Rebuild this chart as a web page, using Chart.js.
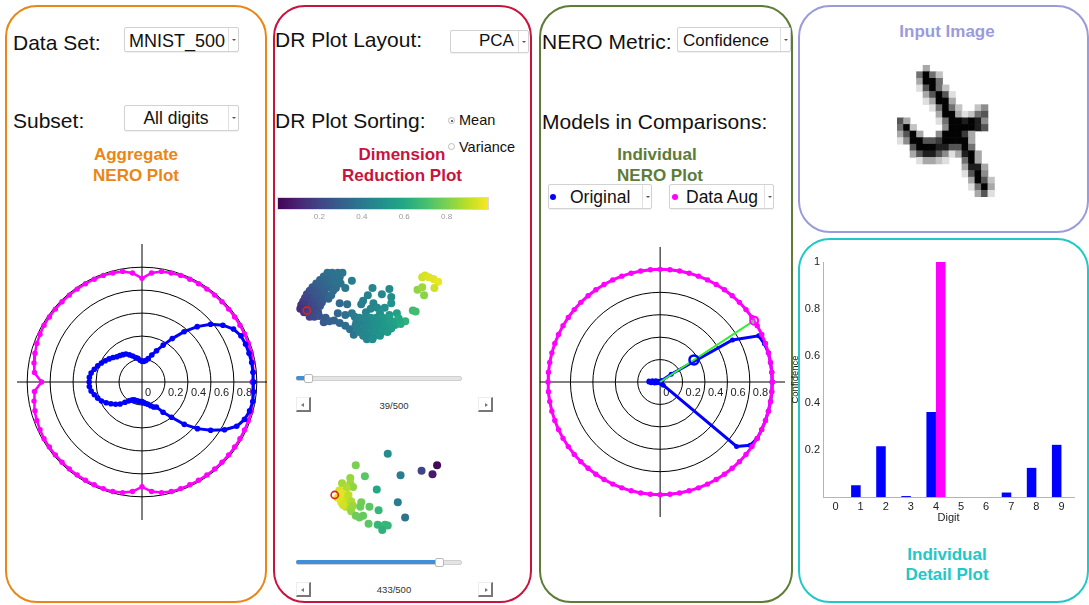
<!DOCTYPE html>
<html>
<head>
<meta charset="utf-8">
<script src="https://cdn.jsdelivr.net/npm/chart.js@4.4.1/dist/chart.umd.min.js"></script>
<style>
body { margin:0; width:1089px; height:605px; position:relative; overflow:hidden; background:#fff; font-family:"Liberation Sans", Arial, sans-serif; color:#111; }
.panel { position:absolute; box-sizing:border-box; border:2px solid; border-radius:32px; }
.t { position:absolute; line-height:1; white-space:nowrap; }
.c { text-align:center; width:200px; }
.h { font-weight:bold; font-size:17px; }
.box { position:absolute; box-sizing:border-box; border:1px solid #d2d2d2; border-radius:2px; background:#fff; box-shadow:0 1px 1px rgba(0,0,0,0.06); }
.sep { position:absolute; top:0; bottom:0; width:0; border-left:1px solid #e0e0e0; }
.arr { position:absolute; width:0; height:0; border-left:2px solid transparent; border-right:2px solid transparent; border-top:2px solid #555; }
.dot { position:absolute; width:6px; height:6px; border-radius:3px; }
.radio { position:absolute; box-sizing:border-box; width:7px; height:7px; border-radius:4px; border:1px solid #bbb; background:#fff; }
.track { position:absolute; box-sizing:border-box; height:5px; background:#e4e4e4; border:1px solid #d0d0d0; border-radius:2px; }
.fill { position:absolute; height:4px; background:#3f8fd9; border-radius:2px; }
.knob { position:absolute; box-sizing:border-box; width:9px; height:9px; background:#fff; border:1px solid #b8b8b8; border-radius:2px; }
.btn { position:absolute; box-sizing:border-box; width:15px; height:15px; background:#fff; border-top:1px solid #eee; border-left:1px solid #eee; border-right:2px solid #777; border-bottom:2px solid #777; }
.btn i { position:absolute; top:5px; width:0; height:0; border-top:2px solid transparent; border-bottom:2px solid transparent; }
canvas { position:absolute; }
</style>
</head>
<body>
<!-- panels -->
<div class="panel" style="left:5px;top:5px;width:262px;height:598px;border-color:#ea8616"></div>
<div class="panel" style="left:273px;top:5px;width:259px;height:598px;border-color:#c8133f"></div>
<div class="panel" style="left:539px;top:5px;width:254px;height:598px;border-color:#5d7c36"></div>
<div class="panel" style="left:798px;top:5px;width:291px;height:228px;border-color:#9b9bdb"></div>
<div class="panel" style="left:798px;top:238px;width:291px;height:365px;border-color:#22c7c7"></div>

<!-- panel 1 controls -->
<div class="t" style="left:13px;top:31.5px;font-size:21px">Data Set:</div>
<div class="box" style="left:124px;top:27px;width:115px;height:25px"><div class="sep" style="left:103px"></div><div class="arr" style="left:107px;top:11px"></div></div>
<div class="t" style="left:129px;top:31.5px;font-size:18px">MNIST_500</div>
<div class="t" style="left:13px;top:110.2px;font-size:21px">Subset:</div>
<div class="box" style="left:124px;top:105px;width:115px;height:26px"><div class="sep" style="left:103px"></div><div class="arr" style="left:107px;top:11px"></div></div>
<div class="t c" style="left:76px;top:110.2px;font-size:17.5px">All digits</div>
<div class="t c h" style="left:36px;top:146.3px;color:#ea8616">Aggregate</div>
<div class="t c h" style="left:36px;top:167.3px;color:#ea8616">NERO Plot</div>

<!-- panel 2 controls -->
<div class="t" style="left:275px;top:29.2px;font-size:21px">DR Plot Layout:</div>
<div class="box" style="left:450px;top:30px;width:79px;height:23px"><div class="sep" style="left:67px"></div><div class="arr" style="left:71px;top:10px"></div></div>
<div class="t" style="left:479px;top:32.3px;font-size:17px">PCA</div>
<div class="t" style="left:275px;top:109.9px;font-size:21px">DR Plot Sorting:</div>
<div class="radio" style="left:448px;top:117px"><div style="position:absolute;left:1.5px;top:1.5px;width:2px;height:2px;border-radius:1px;background:#333"></div></div>
<div class="t" style="left:459px;top:113.2px;font-size:14.5px">Mean</div>
<div class="radio" style="left:448px;top:142.5px"></div>
<div class="t" style="left:459px;top:140px;font-size:14.5px">Variance</div>
<div class="t c h" style="left:302px;top:146.3px;color:#c8133f">Dimension</div>
<div class="t c h" style="left:302px;top:167.3px;color:#c8133f">Reduction Plot</div>

<div class="track" style="left:296px;top:376px;width:166px"></div>
<div class="fill" id="fillTop" style="left:296px;top:376px"></div>
<div class="knob" id="knobTop" style="top:374px"></div>
<div class="btn" style="left:296px;top:397px"><i style="left:4px;border-right:3px solid #777"></i></div>
<div class="btn" style="left:478px;top:397px"><i style="left:6px;border-left:3px solid #777"></i></div>
<div class="t c" id="lblTop" style="left:294px;top:400.7px;font-size:9.5px;color:#333"></div>

<div class="track" style="left:296px;top:560px;width:166px"></div>
<div class="fill" id="fillBot" style="left:296px;top:560px"></div>
<div class="knob" id="knobBot" style="top:558px"></div>
<div class="btn" style="left:296px;top:582px"><i style="left:4px;border-right:3px solid #777"></i></div>
<div class="btn" style="left:478px;top:582px"><i style="left:6px;border-left:3px solid #777"></i></div>
<div class="t c" id="lblBot" style="left:294px;top:584.7px;font-size:9.5px;color:#333"></div>

<!-- panel 3 controls -->
<div class="t" style="left:542px;top:30.5px;font-size:21px">NERO Metric:</div>
<div class="box" style="left:677px;top:27px;width:114px;height:25px"><div class="sep" style="left:102px"></div><div class="arr" style="left:106px;top:11px"></div></div>
<div class="t" style="left:683px;top:32.3px;font-size:17px">Confidence</div>
<div class="t" style="left:542px;top:110.5px;font-size:21px">Models in Comparisons:</div>
<div class="t c h" style="left:557px;top:146.3px;color:#5d7c36">Individual</div>
<div class="t c h" style="left:560px;top:167.3px;color:#5d7c36">NERO Plot</div>
<div class="box" style="left:548px;top:184px;width:104px;height:25px"><div class="sep" style="left:93px"></div><div class="arr" style="left:97px;top:11px"></div></div>
<div class="dot" style="left:550px;top:194px;background:#0000ff"></div>
<div class="t" style="left:570px;top:189.2px;font-size:17.5px">Original</div>
<div class="box" style="left:669px;top:184px;width:105px;height:25px"><div class="sep" style="left:94px"></div><div class="arr" style="left:98px;top:11px"></div></div>
<div class="dot" style="left:672px;top:194px;background:#ff00ff"></div>
<div class="t" style="left:686px;top:189.2px;font-size:17.5px">Data Aug</div>

<!-- panel 4 titles -->
<div class="t c h" style="left:847px;top:23.3px;color:#9b9bdb">Input Image</div>
<div class="t c h" style="left:847px;top:545.6px;color:#22c7c7">Individual</div>
<div class="t c h" style="left:847px;top:566.3px;color:#22c7c7">Detail Plot</div>

<canvas id="aggPolar" width="258" height="284" style="left:13px;top:240px"></canvas>
<canvas id="indPolar" width="259" height="284" style="left:533px;top:240px"></canvas>
<canvas id="cbar" width="212" height="26" style="left:277px;top:197px"></canvas>
<canvas id="drTop" width="180" height="110" style="left:290px;top:260px"></canvas>
<canvas id="drBot" width="130" height="110" style="left:320px;top:440px"></canvas>
<canvas id="digitImg" width="114" height="142" style="left:892px;top:60px"></canvas>
<canvas id="detail" width="290" height="274" style="left:790px;top:251px"></canvas>

<script>
Chart.defaults.font.family = '"Liberation Sans", Arial, sans-serif';
Chart.defaults.animation = false;
Chart.defaults.plugins.legend.display = false;
Chart.defaults.plugins.tooltip.enabled = false;

// polar NERO plots: angle in degrees, radius = confidence
const polarAngles = [0,5,10,15,20,25,30,35,40,45,50,55,60,65,70,75,80,85,90,95,100,105,110,115,
  120,125,130,135,140,145,150,155,160,165,170,175,180,185,190,195,200,205,210,215,220,225,230,235,
  240,245,250,255,260,265,270,275,280,285,290,295,300,305,310,315,320,325,330,335,340,345,350,355];

const aggOrigR = [0.97,0.97,0.97,0.965,0.96,0.95,0.92,0.86,0.78,0.68,0.57,0.46,0.37,0.30,0.25,0.21,0.19,0.18,
  0.18,0.19,0.21,0.22,0.24,0.26,0.28,0.29,0.30,0.31,0.33,0.35,0.37,0.39,0.41,0.43,0.45,0.46,
  0.46,0.46,0.45,0.43,0.41,0.39,0.36,0.33,0.30,0.27,0.23,0.20,0.18,0.17,0.17,0.17,0.17,0.17,
  0.17,0.18,0.19,0.20,0.22,0.24,0.25,0.32,0.40,0.52,0.63,0.73,0.83,0.91,0.95,0.97,0.98,0.975];

const aggAugR = [0.96,0.975,0.98,0.985,0.985,0.985,0.985,0.985,0.985,0.985,0.985,0.985,0.985,0.985,0.985,0.98,0.975,0.95,
  0.90,0.95,0.975,0.98,0.985,0.985,0.985,0.985,0.985,0.985,0.985,0.985,0.985,0.98,0.975,0.965,0.955,0.94,
  0.875,0.94,0.955,0.965,0.975,0.98,0.985,0.985,0.985,0.985,0.985,0.985,0.985,0.985,0.985,0.985,0.975,0.955,
  0.91,0.955,0.975,0.985,0.985,0.985,0.985,0.985,0.985,0.985,0.985,0.985,0.985,0.985,0.985,0.985,0.98,0.97];

const indOrigR = [1,1,1,1,0.99,0.97,0.745,0.12,0.02,0,0,0,0,0,0,0,0,0,
  0,0,0,0,0,0,0,0,0,0,0,0,0,0.01,0.02,0.04,0.07,0.10,
  0.10,0.08,0.05,0.03,0.01,0,0,0,0,0,0,0,0,0,0,0,0,0,
  0,0,0,0,0,0,0,0,0.02,0.04,0.89,0.98,1,1,1,1,1,1];

const indAugR = [1,1,1,1,1,1,1,1,1,1,1,1,1,1,1,1,1,1,
  1,1,1,1,1,1,1,1,1,1,1,1,1,1,1,1,1,1,
  1,1,1,1,1,1,1,1,1,1,1,1,1,1,1,1,1,1,
  1,1,1,1,1,1,1,1,1,1,1,1,1,1,1,1,1,1];

const ringValues = [0.2, 0.4, 0.6, 0.8, 1.0];
const ringTickValues = [0, 0.2, 0.4, 0.6, 0.8];
const ringTickLabels = ['0', '0.2', '0.4', '0.6', '0.8'];

const selectedAngle = 33;
const selectedOrig = 0.36;
const selectedAug = 1.0;

// individual detail plot
const digits = ['0','1','2','3','4','5','6','7','8','9'];
const origConf = [0, 0.05, 0.216, 0.004, 0.362, 0, 0, 0.019, 0.124, 0.222];
const augConf = [0, 0, 0, 0, 1.0, 0, 0, 0, 0, 0];

// dimension reduction scatter (picture coordinates), value = mean confidence
const drTopX = [324,329,320,325,330,316,321,326,331,312,317,322,327,308,313,318,323,305,310,315,320,302,307,312,317,322,
  300,305,310,315,320,325,298,303,308,313,318,296,301,306,311,316,295,300,305,310,299,304,309,314,305,310,315,
  335,340,337,333,338,343,333,350,328,330,
  337,345,335,343,350,353,322,320,326,331,337,343,348,352,
  372,390,367,382,392,362,360,373,392,370,377,385,380,390,398,365,
  358,364,370,376,383,390, 355,361,367,373,379,385,391,397, 354,360,366,372,378,384,390,396,
  356,362,368,374,380,386,392, 358,364,370,376,382,388, 362,368,374,380, 366,372,
  415,418,407,402,400,
  425,428,432,437,442,438,420,425,427];
const drTopY = [268,268,272,272,272,276,276,277,276,280,280,281,281,284,284,285,285,288,288,289,289,292,292,293,293,293,
  296,296,297,297,297,297,300,300,301,301,301,304,304,305,305,305,308,308,309,309,312,313,313,312,317,317,316,
  268,268,273,279,280,285,285,277,293,288,
  302,303,313,315,313,317,318,323,322,321,324,327,331,337,
  285,286,293,292,295,299,303,302,302,308,307,307,313,315,313,312,
  318,318,318,318,318,318, 322,322,322,322,322,322,322,322, 326,326,326,326,326,326,326,326,
  330,330,330,330,330,330,330, 334,334,334,334,334,334, 338,338,338,338, 342,342,
  310,311,322,325,319,
  273,271,273,275,278,285,287,284,293];
const drTopV = [.37,.38,.35,.36,.37,.33,.34,.35,.37,.31,.32,.33,.35,.28,.30,.31,.33,.26,.27,.29,.31,.23,.25,.27,.29,.31,
  .21,.22,.25,.27,.29,.32,.19,.20,.23,.25,.27,.16,.18,.21,.23,.26,.13,.15,.19,.22,.15,.18,.21,.24,.20,.23,.26,
  .39,.39,.38,.37,.38,.39,.36,.42,.34,.35,
  .34,.36,.33,.36,.40,.42,.29,.28,.30,.31,.33,.35,.37,.39,
  .45,.47,.44,.46,.48,.43,.42,.45,.50,.45,.47,.49,.50,.54,.57,.44,
  .45,.46,.48,.50,.53,.56, .43,.45,.47,.49,.51,.53,.56,.58, .42,.44,.46,.48,.50,.53,.55,.57,
  .43,.45,.47,.49,.51,.53,.55, .44,.46,.48,.50,.52,.54, .45,.47,.49,.51, .46,.48,
  .68,.69,.64,.61,.60,
  .93,.94,.95,.96,.97,.93,.83,.85,.82];
const drTopSel = [302, 310];

const drBotX = [388,353,363,402,425,442,437,338,347,347,350,343,376,399,407,
  335,338,333,340,345,337,343,348,342,347,350,336,339,
  359,358,368,378,348,353,357,361,367,377,382,385,388,382];
const drBotY = [449,462,474,473,468,462,472,482,476,482,486,487,489,503,520,
  490,493,498,498,495,503,503,502,508,510,507,494,506,
  503,508,508,512,513,518,520,518,527,528,530,528,529,534];
const drBotV = [.48,.80,.74,.42,.20,.02,.07,.86,.84,.85,.83,.88,.60,.42,.38,
  .93,.95,.97,.94,.90,.95,.92,.88,.90,.87,.85,.96,.93,
  .78,.77,.74,.66,.84,.78,.77,.76,.74,.66,.65,.67,.66,.64];
const drBotSel = [330, 495];

const colorbarTicks = [0.2, 0.4, 0.6, 0.8];
const sliderTop = 39, sliderBot = 433, sliderMax = 500;

// input image, 0 = white .. 9 = black
const digitRows = [
  '0000300000000000',
  '0005952000000000',
  '0003995000000000',
  '0001695200000000',
  '0000369610000000',
  '0000139930000000',
  '0000015952002400',
  '0000003993125600',
  '6300001599898400',
  '5920000499998600',
  '3693004999730000',
  '1499667999930000',
  '0069998866950000',
  '0036886413893000',
  '0001332100593000',
  '0000000000388300',
  '0000000000169400',
  '0000000000039620',
  '0000000000015930',
  '0000000000003610'
];

const viridisStops = ['#440154','#482475','#414487','#355f8d','#2a788e','#21918c','#22a884','#44bf70','#7ad151','#bddf26','#fde725'];
function hexRgb(h) { return [1, 3, 5].map(k => parseInt(h.slice(k, k + 2), 16)); }
function viridis(v) {
  const t = Math.max(0, Math.min(1, v)) * 10;
  const i = Math.min(9, Math.floor(t));
  const f = t - i;
  const a = hexRgb(viridisStops[i]), b = hexRgb(viridisStops[i + 1]);
  return 'rgb(' + a.map((c, k) => Math.round(c + (b[k] - c) * f)).join(',') + ')';
}

function polarPoints(angles, radii) {
  const pts = angles.map((a, i) => ({
    x: radii[i] * Math.cos(a * Math.PI / 180),
    y: radii[i] * Math.sin(a * Math.PI / 180)
  }));
  pts.push(pts[0]);
  return pts;
}

// rings, crosshair and radius labels
const polarFrame = {
  id: 'polarFrame',
  beforeDatasetsDraw(chart) {
    const { ctx, chartArea: a, scales: { x, y } } = chart;
    const cx = x.getPixelForValue(0), cy = y.getPixelForValue(0);
    ctx.save();
    ctx.strokeStyle = '#000';
    ctx.lineWidth = 1;
    ctx.beginPath();
    ctx.moveTo(a.left, cy); ctx.lineTo(a.right, cy);
    ctx.moveTo(cx, a.top); ctx.lineTo(cx, a.bottom);
    ctx.stroke();
    ringValues.forEach(v => {
      ctx.beginPath();
      ctx.arc(cx, cy, x.getPixelForValue(v) - cx, 0, Math.PI * 2);
      ctx.stroke();
    });
    ctx.fillStyle = '#222';
    ctx.font = '11px "Liberation Sans", Arial';
    ctx.textAlign = 'left';
    ctx.textBaseline = 'middle';
    ringTickValues.forEach((v, i) => ctx.fillText(ringTickLabels[i], x.getPixelForValue(v) + 3, cy + 11));
    ctx.restore();
  }
};

function polarChart(id, xmin, xmax, ymax, datasets) {
  return new Chart(id, {
    type: 'scatter',
    data: { datasets },
    options: {
      responsive: false,
      layout: { padding: 0 },
      scales: {
        x: { type: 'linear', min: xmin, max: xmax, display: false },
        y: { type: 'linear', min: -ymax, max: ymax, display: false }
      }
    },
    plugins: [polarFrame]
  });
}

const pxUnit = 118.5;
polarChart('aggPolar', -129 / pxUnit, 129 / pxUnit, 142 / pxUnit, [
  { data: polarPoints(polarAngles, aggOrigR), showLine: true, borderColor: '#0000ff', backgroundColor: '#0000ff',
    borderWidth: 3, pointRadius: 2.8, pointBorderWidth: 0 },
  { data: polarPoints(polarAngles, aggAugR), showLine: true, borderColor: '#ff00ff', backgroundColor: '#ff00ff',
    borderWidth: 2.5, pointRadius: 2.7, pointBorderWidth: 0 }
]);

const selA = selectedAngle * Math.PI / 180;
const selAugPt = { x: selectedAug * Math.cos(selA), y: selectedAug * Math.sin(selA) };
const selOrigPt = { x: selectedOrig * Math.cos(selA), y: selectedOrig * Math.sin(selA) };
polarChart('indPolar', -127 / pxUnit, 132 / pxUnit, 142 / pxUnit, [
  { data: [selAugPt], pointRadius: 4, pointBorderWidth: 2, pointBorderColor: '#ff00ff', pointBackgroundColor: 'rgba(255,120,255,0.25)' },
  { data: [selOrigPt], pointRadius: 4.5, pointBorderWidth: 2.5, pointBorderColor: '#0000ff', pointBackgroundColor: 'rgba(0,0,0,0)' },
  { data: [{ x: 0, y: 0 }, selAugPt], showLine: true, borderColor: '#33ee33', borderWidth: 2, pointRadius: 0 },
  { data: polarPoints(polarAngles, indAugR), showLine: true, borderColor: '#ff00ff', backgroundColor: '#ff00ff',
    borderWidth: 3, pointRadius: 2.7, pointBorderWidth: 0 },
  { data: polarPoints(polarAngles, indOrigR), showLine: true, borderColor: '#0000ff', backgroundColor: '#0000ff',
    borderWidth: 3, pointRadius: 2.5, pointBorderWidth: 0 }
]);

// colour bar
const gradientBar = {
  id: 'gradientBar',
  beforeDatasetsDraw(chart) {
    const { ctx, chartArea: a, scales: { x } } = chart;
    const g = ctx.createLinearGradient(x.getPixelForValue(0), 0, x.getPixelForValue(1), 0);
    viridisStops.forEach((c, i) => g.addColorStop(i / (viridisStops.length - 1), c));
    ctx.save();
    ctx.fillStyle = g;
    ctx.fillRect(a.left, a.top, a.right - a.left, a.bottom - a.top);
    ctx.strokeStyle = '#d8d8d8';
    ctx.lineWidth = 1;
    ctx.strokeRect(a.left + 0.5, a.top + 0.5, a.right - a.left - 1, a.bottom - a.top - 1);
    ctx.restore();
  }
};
new Chart('cbar', {
  type: 'scatter',
  data: { datasets: [] },
  options: {
    responsive: false,
    layout: { padding: 0 },
    scales: {
      x: {
        type: 'linear', min: 0, max: 1,
        afterBuildTicks: s => { s.ticks = colorbarTicks.map(v => ({ value: v })); },
        grid: { display: false, drawTicks: false },
        border: { display: false },
        ticks: { font: { size: 8 }, color: '#9a9a9a', padding: 2 }
      },
      y: { min: 0, max: 1, display: false }
    }
  },
  plugins: [gradientBar]
});

function drChart(id, xs, ys, vs, sel, xr, yr) {
  new Chart(id, {
    type: 'scatter',
    data: {
      datasets: [
        { data: [{ x: sel[0], y: sel[1] }], pointRadius: 3.6, pointBorderWidth: 1.6,
          pointBorderColor: '#e3201b', pointBackgroundColor: 'rgba(0,0,0,0)' },
        { data: xs.map((x, i) => ({ x, y: ys[i] })), pointRadius: 4, pointBorderWidth: 0,
          pointBackgroundColor: vs.map(viridis) }
      ]
    },
    options: {
      responsive: false,
      layout: { padding: 0 },
      scales: {
        x: { min: xr[0], max: xr[1], display: false },
        y: { min: yr[0], max: yr[1], reverse: true, display: false }
      }
    }
  });
}
drChart('drTop', drTopX, drTopY, drTopV, drTopSel, [290, 470], [260, 370]);
drChart('drBot', drBotX, drBotY, drBotV, drBotSel, [320, 450], [440, 550]);

// sliders
function setSlider(fillId, knobId, lblId, val) {
  const px = 296 + 166 * val / sliderMax;
  document.getElementById(fillId).style.width = (px - 296) + 'px';
  document.getElementById(knobId).style.left = (px - 4.5) + 'px';
  document.getElementById(lblId).textContent = val + '/' + sliderMax;
}
setSlider('fillTop', 'knobTop', 'lblTop', sliderTop);
setSlider('fillBot', 'knobBot', 'lblBot', sliderBot);

// input image as square points
const pixPts = [], pixCols = [];
digitRows.forEach((row, r) => {
  row.split('').forEach((ch, c) => {
    const v = +ch;
    if (v > 0) {
      const g = Math.round(250 - v * 27.5);
      pixPts.push({ x: c, y: r });
      pixCols.push('rgb(' + g + ',' + g + ',' + g + ')');
    }
  });
});
new Chart('digitImg', {
  type: 'scatter',
  data: { datasets: [{ data: pixPts, pointStyle: 'rect', pointRadius: 5.1, pointBorderWidth: 0, pointBackgroundColor: pixCols }] },
  options: {
    responsive: false,
    layout: { padding: 0 },
    scales: {
      x: { min: -0.5, max: 15.5, display: false },
      y: { min: -0.5, max: 19.5, reverse: true, display: false }
    }
  }
});

// detail bar chart
new Chart('detail', {
  type: 'bar',
  data: {
    labels: digits,
    datasets: [
      { label: 'Original', data: origConf, backgroundColor: '#0000ff' },
      { label: 'Data Aug', data: augConf, backgroundColor: '#ff00ff' }
    ]
  },
  options: {
    responsive: false,
    layout: { padding: { top: 11, right: 6, left: 0, bottom: 0 } },
    datasets: { bar: { categoryPercentage: 0.76, barPercentage: 1.0 } },
    scales: {
      x: {
        offset: true,
        grid: { display: false, drawTicks: false },
        border: { color: '#b4b4b4' },
        ticks: { font: { size: 11 }, color: '#222', padding: 3 },
        title: { display: true, text: 'Digit', font: { size: 11 }, color: '#222', padding: 0 },
        afterFit: s => { s.height = 28; }
      },
      y: {
        min: 0, max: 1,
        grid: { display: false, drawTicks: false },
        border: { color: '#b4b4b4' },
        ticks: { stepSize: 0.2, font: { size: 11 }, color: '#222', padding: 3,
          callback: v => (v === 0 ? '' : Math.round(v * 10) / 10) },
        title: { display: true, text: 'Confidence', font: { size: 9.5 }, color: '#1a1a1a', padding: 0 },
        afterFit: s => { s.width = 33; }
      }
    }
  }
});
</script>
</body>
</html>
